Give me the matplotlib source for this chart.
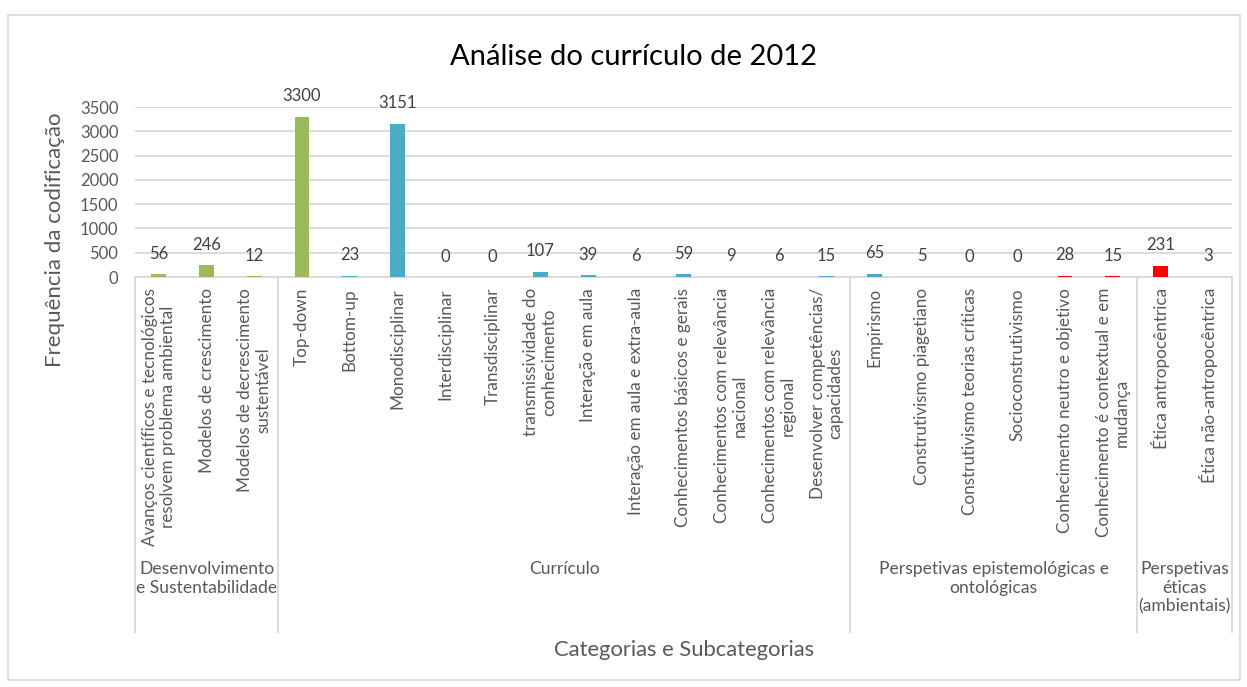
"""Análise do currículo de 2012 - bar chart with two-level category axis."""

import matplotlib

matplotlib.use("Agg")
from matplotlib import pyplot as plt
from matplotlib.patches import Rectangle
from matplotlib.lines import Line2D

# data
subcategories = [
    "Avanços científicos e tecnológicos\nresolvem problema ambiental",
    "Modelos de crescimento",
    "Modelos de decrescimento\nsustentável",
    "Top-down",
    "Bottom-up",
    "Monodisciplinar",
    "Interdisciplinar",
    "Transdisciplinar",
    "transmissividade do\nconhecimento",
    "Interação em aula",
    "Interação em aula e extra-aula",
    "Conhecimentos básicos e gerais",
    "Conhecimentos com relevância\nnacional",
    "Conhecimentos com relevância\nregional",
    "Desenvolver competências/\ncapacidades",
    "Empirismo",
    "Construtivismo piagetiano",
    "Construtivismo teorias críticas",
    "Socioconstrutivismo",
    "Conhecimento neutro e objetivo",
    "Conhecimento é contextual e em\nmudança",
    "Ética antropocêntrica",
    "Ética não-antropocêntrica",
]
values = [56, 246, 12, 3300, 23, 3151, 0, 0, 107, 39, 6, 59, 9, 6, 15,
          65, 5, 0, 0, 28, 15, 231, 3]
groups = [
    "Desenvolvimento\ne Sustentabilidade",
    "Currículo",
    "Perspetivas epistemológicas e\nontológicas",
    "Perspetivas\néticas\n(ambientais)",
]
group_sizes = [3, 12, 6, 2]

green, blue, red, purple = "#9BBB59", "#4BACC6", "#FF0000", "#8064A2"
colors = [green] * 4 + [blue] * 12 + [red] * 6 + [purple]

text_grey = "#595959"
grid_grey = "#D9D9D9"

plt.rcParams["font.family"] = ["Lato", "DejaVu Sans"]

W, H = 1247, 687
fig = plt.figure(figsize=(W / 100, H / 100), dpi=100)

# plot area in pixels: x 135..1232, y 107..277
left, right, top, bottom = 135, 1232, 107, 277
ax = fig.add_axes([left / W, 1 - bottom / H, (right - left) / W, (bottom - top) / H])

x = list(range(len(values)))
ax.bar(x, values, width=0.31, color=colors, zorder=3)
for xi, v in zip(x, values):
    ax.annotate(str(v), (xi, v), xytext=(0, 9), textcoords="offset points",
                ha="center", va="bottom", fontsize=12, color="#404040")

ax.set_xlim(-0.5, len(values) - 0.5)
ax.set_ylim(0, 3500)
ax.set_yticks(range(0, 3501, 500))
ax.yaxis.grid(True, color=grid_grey, linewidth=1.3, zorder=0)
ax.tick_params(axis="y", length=0, pad=12, labelsize=12, labelcolor=text_grey)
ax.set_xticks(x)
ax.set_xticklabels(subcategories, rotation=90, va="top", ha="center",
                   multialignment="center", linespacing=1.15)
ax.tick_params(axis="x", length=0, pad=8, labelsize=12.3, labelcolor=text_grey)
for side in ["top", "right", "left"]:
    ax.spines[side].set_visible(False)
ax.spines["bottom"].set_color(grid_grey)
ax.spines["bottom"].set_linewidth(1.3)

# group dividers and group labels below the axis
slot = (right - left) / len(values)
edges = [0]
for n in group_sizes:
    edges.append(edges[-1] + n)
for e in edges:
    px = left + e * slot
    fig.add_artist(Line2D([px / W, px / W], [1 - bottom / H, 1 - 632 / H],
                          color=grid_grey, linewidth=1.3))
for g, a, b in zip(groups, edges[:-1], edges[1:]):
    px = left + (a + b) / 2 * slot
    fig.text(px / W, 1 - 561 / H, g, ha="center", va="top", fontsize=12.6,
             color=text_grey, linespacing=1.2)

# titles
fig.text(633 / W, 1 - 57 / H, "Análise do currículo de 2012", ha="center",
         va="center", fontsize=21, color="#000000")
fig.text(55 / W, 1 - 240 / H, "Frequência da codificação", ha="center",
         va="center", rotation=90, fontsize=16, color=text_grey)
fig.text(684 / W, 1 - 650 / H, "Categorias e Subcategorias", ha="center",
         va="center", fontsize=15.8, color=text_grey)

# chart-area border
fig.add_artist(Rectangle((8 / W, 1 - 680 / H), 1232 / W, 665 / H,
                         fill=False, edgecolor=grid_grey, linewidth=1.2))

fig.savefig("out.png", dpi=100)
